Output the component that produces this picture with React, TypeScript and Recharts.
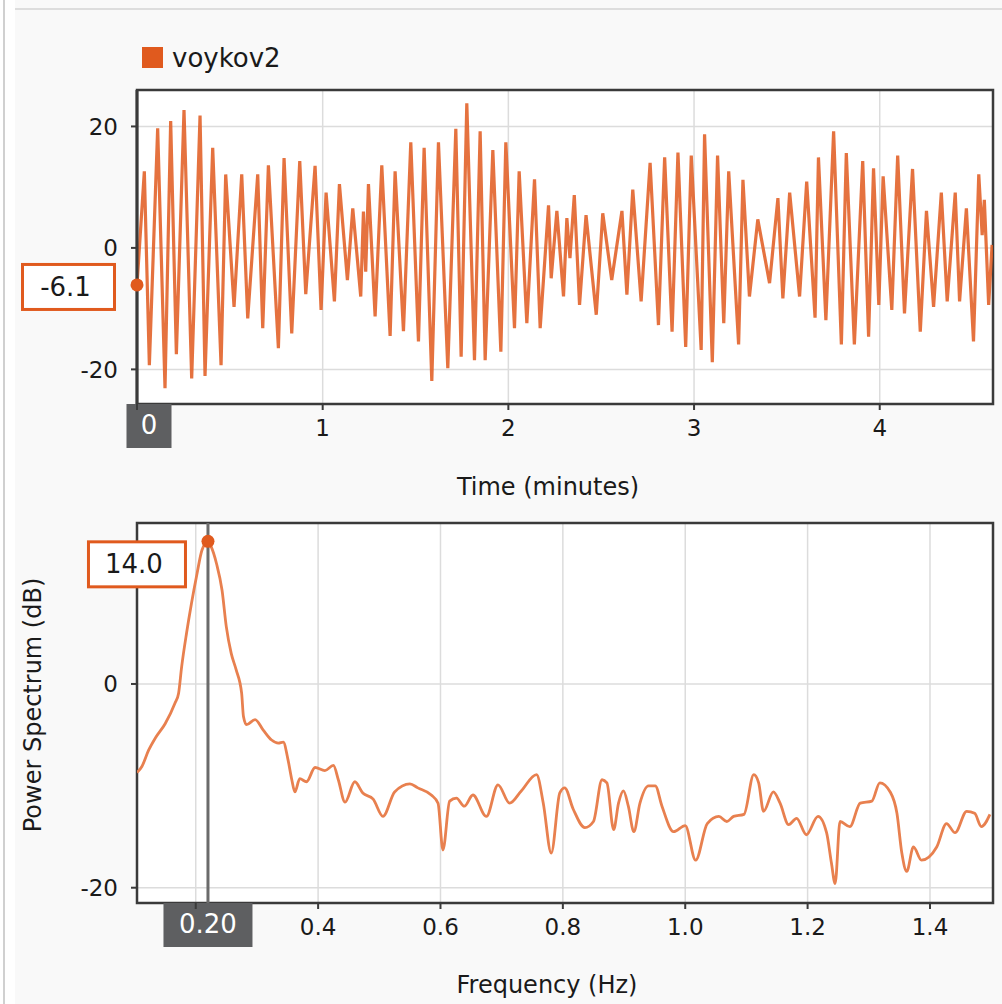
import React from 'react';
import {
  LineChart,
  Line,
  XAxis,
  YAxis,
  CartesianGrid,
  ReferenceLine,
  ReferenceDot,
  ReferenceArea,
  Label,
} from 'recharts';

const seriesName = 'voykov2';
const seriesColor = '#e05a1e';

// signal extremes (seconds, amplitude)
const timeSec = [
  0, 2.37, 3.99, 6.68, 9.05, 10.88, 12.72, 15.19, 17.67, 20.37,
  21.98, 24.46, 27.16, 28.66, 31.36, 33.84, 35.78, 39.01, 40.63, 42.46,
  45.69, 47.52, 50.0, 52.59, 54.53, 57.54, 59.48, 61.1, 63.79, 65.41,
  67.99, 69.72, 72.3, 73.17, 73.9, 74.79, 76.94, 79.1, 81.79, 83.4,
  86.1, 88.47, 90.95, 92.78, 95.26, 97.41, 100.43, 103.02, 104.74, 106.57,
  109.05, 110.88, 112.5, 114.98, 117.57, 119.18, 121.98, 123.49, 125.97, 128.45,
  130.28, 132.98, 133.84, 135.67, 137.82, 138.9, 139.9, 141.3, 143.0, 145.1,
  148.4, 150.5, 153.4, 156.7, 158.3, 160.2, 162.9, 165.8, 168.5, 170.5,
  172.9, 174.8, 177.3, 179.1, 182.3, 183.4, 185.9, 187.6, 189.6, 191.2,
  194.4, 195.8, 197.9, 200.6, 204.4, 207.1, 208.7, 210.9, 214.1, 216.4,
  219.1, 220.2, 222.6, 225.1, 227.6, 229.2, 231.8, 234.5, 236.4, 238.0,
  239.7, 241.1, 243.9, 245.8, 248.0, 250.6, 253.1, 255.1, 257.4, 259.9,
  261.8, 264.4, 265.8, 268.0, 270.3, 272.0, 273.1, 273.8, 275.2, 276.3,
];
const amplitude = [
  -6.1, 12.6, -19.3, 19.7, -23.1, 20.9, -17.5, 22.7, -21.5, 21.8,
  -21.1, 16.5, -19.3, 12.1, -9.7, 12.1, -11.6, 12.1, -13.2, 13.6,
  -16.5, 14.8, -14.1, 14.3, -7.6, 13.5, -10.2, 9.1, -8.8, 10.5,
  -5.3, 6.5, -8.0, 6.0, -3.9, 10.5, -11.3, 13.6, -14.5, 12.6,
  -13.7, 17.4, -15.4, 16.5, -21.9, 17.4, -19.8, 19.6, -17.9, 23.8,
  -18.5, 19.2, -18.5, 16.1, -17.1, 17.4, -13.2, 12.6, -12.4, 11.3,
  -13.2, 7.0, -5.0, 6.1, -8.0, 4.9, -1.7, 8.7, -9.4, 5.4,
  -11.0, 5.7, -5.3, 6.1, -7.7, 9.6, -8.8, 14.0, -12.7, 14.9,
  -13.8, 15.7, -16.3, 15.2, -16.8, 18.7, -18.8, 15.2, -12.4, 12.6,
  -15.9, 11.2, -8.0, 4.7, -5.8, 8.2, -8.3, 9.1, -8.0, 10.9,
  -11.5, 14.9, -11.9, 19.2, -15.9, 15.6, -15.9, 14.3, -14.6, 13.1,
  -9.4, 11.8, -10.2, 15.2, -10.8, 13.0, -13.8, 6.1, -9.7, 9.1,
  -8.8, 9.1, -8.8, 6.5, -15.4, 12.1, 2.1, 7.9, -9.4, 0.5,
];
const timeTicks = [0, 1, 2, 3, 4];
const amplitudeTicks = [-20, 0, 20];
const cursorTime = 0;
const cursorAmplitude = -6.1;

// power spectrum (Hz, dB)
const freqHz = [
  0.104, 0.112, 0.123, 0.134, 0.150, 0.166, 0.172, 0.177, 0.185, 0.193,
  0.202, 0.210, 0.220, 0.225, 0.234, 0.243, 0.250, 0.258, 0.266, 0.275,
  0.278, 0.283, 0.297, 0.310, 0.324, 0.335, 0.343, 0.351, 0.357, 0.362,
  0.370, 0.381, 0.395, 0.411, 0.425, 0.433, 0.444, 0.460, 0.473, 0.490,
  0.506, 0.525, 0.550, 0.563, 0.585, 0.596, 0.604, 0.615, 0.626, 0.639,
  0.653, 0.675, 0.694, 0.713, 0.732, 0.757, 0.768, 0.781, 0.795, 0.803,
  0.817, 0.836, 0.850, 0.864, 0.872, 0.883, 0.891, 0.899, 0.907, 0.916,
  0.926, 0.940, 0.951, 0.962, 0.981, 1.000, 1.017, 1.036, 1.055, 1.068,
  1.079, 1.096, 1.112, 1.120, 1.128, 1.144, 1.155, 1.169, 1.182, 1.198,
  1.217, 1.231, 1.239, 1.245, 1.253, 1.269, 1.286, 1.305, 1.318, 1.335,
  1.346, 1.354, 1.362, 1.373, 1.386, 1.411, 1.427, 1.441, 1.460, 1.473,
  1.484, 1.498,
];
const powerDb = [
  -8.7, -8.1, -6.5, -5.3, -3.9, -1.9, -0.9, 1.7, 5.0, 7.9,
  10.8, 13.1, 14.0, 13.5, 11.8, 9.2, 5.6, 3.0, 1.4, -0.9,
  -3.2, -4.0, -3.5, -4.5, -5.5, -5.8, -5.7, -7.5, -9.4, -10.6,
  -9.3, -9.6, -8.2, -8.5, -8.0, -9.4, -11.6, -9.6, -10.7, -11.3,
  -13.0, -10.6, -9.8, -10.2, -10.9, -11.7, -16.3, -11.5, -11.2, -12.0,
  -10.9, -13.0, -9.9, -11.7, -10.5, -8.9, -11.7, -16.6, -10.7, -10.2,
  -12.3, -14.1, -13.5, -9.4, -9.7, -14.3, -11.7, -10.5, -12.0, -14.5,
  -11.7, -10.0, -10.0, -12.0, -14.5, -13.9, -17.3, -13.7, -13.0, -13.5,
  -13.0, -12.8, -8.9, -9.7, -12.5, -10.6, -11.7, -13.8, -13.2, -14.8,
  -13.0, -14.6, -17.6, -19.6, -13.5, -14.0, -11.7, -11.5, -9.7, -10.6,
  -12.7, -16.6, -18.4, -16.0, -17.3, -16.0, -13.7, -14.6, -12.5, -12.7,
  -14.0, -12.8,
];
const freqTicks = [0.2, 0.4, 0.6, 0.8, 1.0, 1.2, 1.4];
const powerTicks = [-20, 0];
const cursorFreq = 0.22;
const cursorFreqLabel = '0.20';
const cursorPower = 14.0;

const signalData = timeSec.map((s, i) => ({ t: s / 60, v: amplitude[i] }));
const spectrumData = freqHz.map((f, i) => ({ f, p: powerDb[i] }));

const FONT = '"DejaVu Sans", Verdana, sans-serif';
const tickStyle = { fill: '#1a1a1a', fontSize: 23, fontFamily: FONT };
const gridColor = '#dcdcdc';
const frameColor = '#3a3a3a';

const timeDomain = [0, 4.61];
const ampDomain = [-25.7, 26];
const freqDomain = [0.104, 1.503];
const powerDomain = [-21.5, 15.8];

function xTitle(text: string, shift: number, up: number) {
  return (props: any) => {
    const { x, y, width, height } = props.viewBox;
    return (
      <text x={x + width / 2 + shift} y={y + height - up} textAnchor="middle"
        fontFamily={FONT} fontSize={24} fill="#1a1a1a">{text}</text>
    );
  };
}

function yTitle(text: string, baselineX: number, shift: number) {
  return (props: any) => {
    const { y, height } = props.viewBox;
    const cy = y + height / 2 + shift;
    return (
      <text x={baselineX} y={cy} textAnchor="middle" transform={`rotate(-90, ${baselineX}, ${cy})`}
        fontFamily={FONT} fontSize={24} fill="#1a1a1a">{text}</text>
    );
  };
}

// dark cursor line with the grey tag under the axis
function cursorShape(label: string, tagW: number, tagShift: number, lineColor: string) {
  return (props: any) => {
    const x = props.x1;
    const top = Math.min(props.y1, props.y2);
    const bottom = Math.max(props.y1, props.y2);
    const left = x - tagW / 2 + tagShift;
    return (
      <g>
        <line x1={x} y1={top} x2={x} y2={bottom} stroke={lineColor} strokeWidth={3} />
        <rect x={left} y={bottom} width={tagW} height={44} fill="#5e5f61" />
        <text x={left + tagW / 2} y={bottom + 30} textAnchor="middle" fontFamily={FONT}
          fontSize={26} fill="#ffffff">{label}</text>
      </g>
    );
  };
}

// orange dot with the boxed value to its left
function valueShape(text: string, boxW: number, boxTop: number) {
  return (props: any) => {
    const { cx, cy } = props;
    const right = cx - 21;
    const top = cy + boxTop;
    return (
      <g>
        <rect x={right - boxW + 1.5} y={top + 1.5} width={boxW - 3} height={45} fill="#ffffff"
          stroke={seriesColor} strokeWidth={3} />
        <text x={right - boxW / 2 - 3} y={top + 33} textAnchor="middle" fontFamily={FONT}
          fontSize={26} fill="#1a1a1a">{text}</text>
        <circle cx={cx} cy={cy} r={6.5} fill={seriesColor} />
      </g>
    );
  };
}

export default function App() {
  return (
    <div style={{ position: 'absolute', left: 0, top: 0, width: 1002, height: 1004, background: '#ffffff', overflow: 'hidden' }}>
      <div style={{ position: 'absolute', left: 3, top: 0, width: 2, height: 1004, background: '#d0d0d0' }} />
      <div style={{ position: 'absolute', left: 15, top: 0, width: 987, height: 1004, background: '#f9f9f9' }} />
      <div style={{ position: 'absolute', left: 15, top: 8, width: 987, height: 2, background: '#dddddd' }} />

      {/* legend */}
      <div style={{ position: 'absolute', left: 142, top: 47, width: 21, height: 21, background: seriesColor }} />
      <div style={{ position: 'absolute', left: 172, top: 45, fontFamily: FONT, fontSize: 26, lineHeight: '26px', color: '#1a1a1a' }}>
        {seriesName}
      </div>

      <div style={{ position: 'absolute', left: 0, top: 0 }}>
        <LineChart width={1002} height={500} data={signalData} margin={{ top: 90, right: 9, bottom: 0, left: 0 }}>
          <CartesianGrid stroke={gridColor} strokeWidth={1.5} fill="#ffffff" />
          <XAxis type="number" dataKey="t" domain={timeDomain} ticks={timeTicks} allowDataOverflow
            height={96} tickSize={6} tickMargin={10} tick={tickStyle}
            axisLine={false} tickLine={{ stroke: frameColor, strokeWidth: 2 }}
            tickFormatter={(v: number) => (v === cursorTime ? '' : String(v))}>
            <Label content={xTitle('Time (minutes)', -17, 5)} />
          </XAxis>
          <YAxis type="number" domain={ampDomain} ticks={amplitudeTicks} allowDataOverflow
            width={137} tickSize={6} tickMargin={13} tick={tickStyle}
            axisLine={false} tickLine={{ stroke: frameColor, strokeWidth: 2 }} />
          <Line type="linear" dataKey="v" name={seriesName} stroke="#e15e24" strokeOpacity={0.88}
            strokeWidth={3.2} dot={false} isAnimationActive={false} />
          <ReferenceArea x1={timeDomain[0]} x2={timeDomain[1]} y1={ampDomain[0]} y2={ampDomain[1]}
            fill="none" stroke={frameColor} strokeWidth={2.5} fillOpacity={0} ifOverflow="visible" />
          <ReferenceLine x={cursorTime} ifOverflow="visible"
            shape={cursorShape(String(cursorTime), 45, 12, frameColor)} />
          <ReferenceDot x={cursorTime} y={cursorAmplitude} r={6} ifOverflow="visible"
            shape={valueShape(cursorAmplitude.toFixed(1), 95, -22)} />
        </LineChart>
      </div>

      <div style={{ position: 'absolute', left: 0, top: 500 }}>
        <LineChart width={1002} height={504} data={spectrumData} margin={{ top: 23, right: 9, bottom: 0, left: 0 }}>
          <CartesianGrid stroke={gridColor} strokeWidth={1.5} fill="#ffffff" />
          <XAxis type="number" dataKey="f" domain={freqDomain} ticks={freqTicks} allowDataOverflow
            height={101} tickSize={6} tickMargin={10} tick={tickStyle}
            axisLine={false} tickLine={{ stroke: frameColor, strokeWidth: 2 }}
            tickFormatter={(v: number) => (Math.abs(v - 0.2) < 1e-6 ? '' : v.toFixed(1))}>
            <Label content={xTitle('Frequency (Hz)', -18, 11)} />
          </XAxis>
          <YAxis type="number" domain={powerDomain} ticks={powerTicks} allowDataOverflow
            width={137} tickSize={6} tickMargin={13} tick={tickStyle}
            axisLine={false} tickLine={{ stroke: frameColor, strokeWidth: 2 }}>
            <Label content={yTitle('Power Spectrum (dB)', 41, -8)} />
          </YAxis>
          <Line type="monotone" dataKey="p" stroke="#e8804f" strokeWidth={2.8} dot={false}
            isAnimationActive={false} />
          <ReferenceArea x1={freqDomain[0]} x2={freqDomain[1]} y1={powerDomain[0]} y2={powerDomain[1]}
            fill="none" stroke={frameColor} strokeWidth={2.5} fillOpacity={0} ifOverflow="visible" />
          <ReferenceLine x={cursorFreq} ifOverflow="visible"
            shape={cursorShape(cursorFreqLabel, 89, 0, '#6b6b6b')} />
          <ReferenceDot x={cursorFreq} y={cursorPower} r={6} ifOverflow="visible"
            shape={valueShape(cursorPower.toFixed(1), 100, -1)} />
        </LineChart>
      </div>
    </div>
  );
}
